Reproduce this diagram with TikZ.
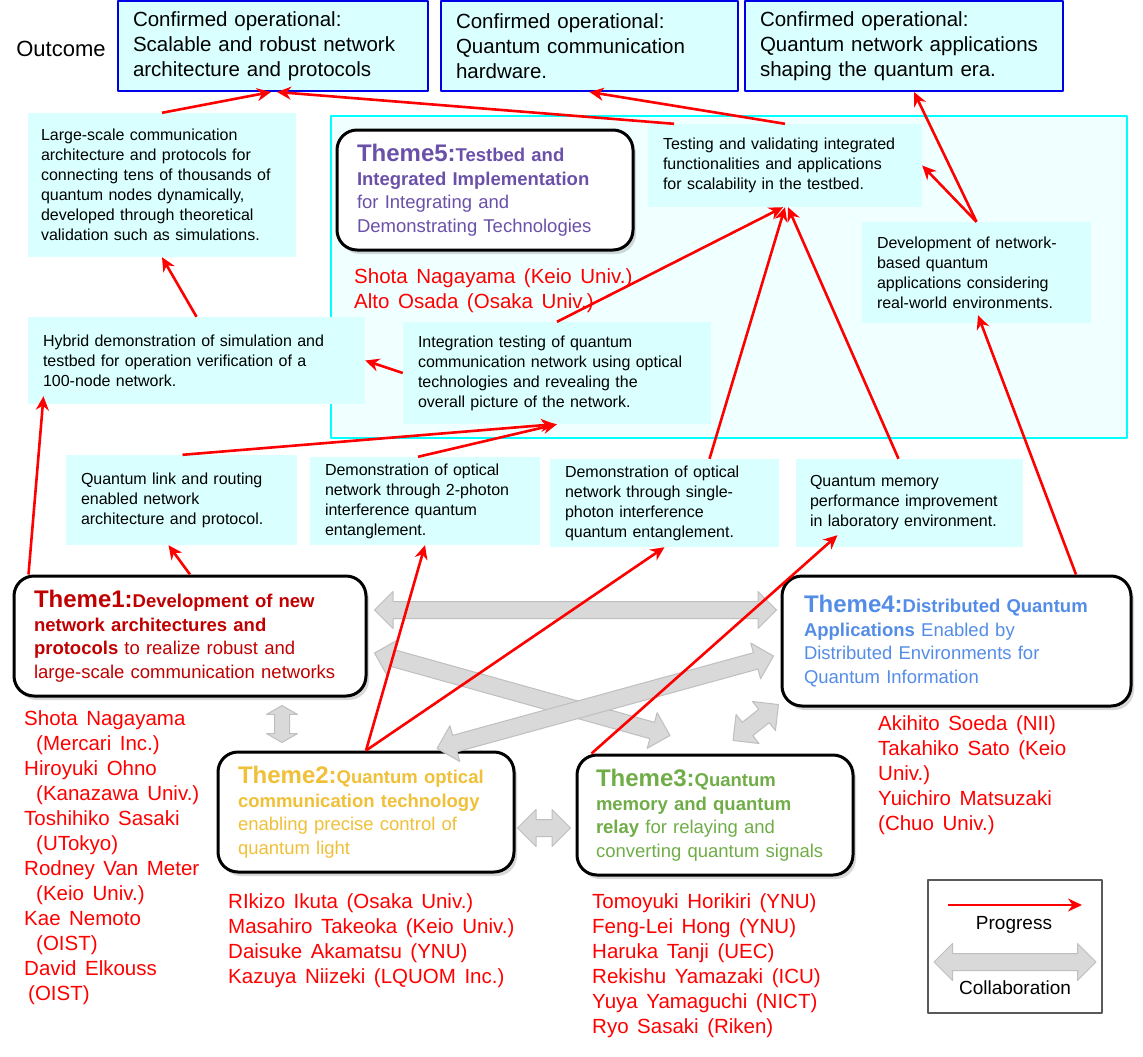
\documentclass[tikz,border=0pt]{standalone}
\usepackage{fontspec}
\setmainfont{Liberation Sans}[WordSpace=1.5]
\usetikzlibrary{arrows.meta,shapes.arrows,shadows,calc}

\definecolor{cellfill}{RGB}{217,255,255}
\definecolor{zonefill}{RGB}{240,255,255}
\definecolor{zoneline}{RGB}{0,255,255}
\definecolor{outline}{RGB}{0,0,230}
\definecolor{legline}{RGB}{89,89,89}
\definecolor{tone}{RGB}{192,0,0}
\definecolor{ttwo}{RGB}{240,192,56}
\definecolor{tthree}{RGB}{112,173,71}
\definecolor{tfour}{RGB}{84,141,232}
\definecolor{tfive}{RGB}{106,80,168}
\definecolor{collabfill}{RGB}{217,217,217}
\definecolor{collabline}{RGB}{191,191,191}

\tikzset{
  outbox/.style={draw=outline, line width=2pt, fill=cellfill, align=left,
    inner xsep=15pt, minimum height=90pt, font=\fontsize{20.5}{25}\selectfont},
  cellbox/.style={fill=cellfill, align=left, inner xsep=15pt,
    font=\fontsize{16}{20}\selectfont},
  themebox/.style={draw, line width=3pt, rounded corners=20pt, fill=white,
    align=left, inner xsep=20pt, minimum height=120pt,
    drop shadow={shadow xshift=3pt, shadow yshift=-4pt, opacity=0.3},
    font=\fontsize{18.5}{23.5}\selectfont},
  names/.style={anchor=north west, inner sep=0pt, align=left, text=red,
    font=\fontsize{20.5}{25}\selectfont},
  prog/.style={draw=red, line width=2.6pt, -{Stealth[length=14pt, width=13pt]}},
  collabarrow/.style={double arrow, draw=collabline, fill=collabfill,
    line width=1pt, inner xsep=0pt, inner ysep=8pt, minimum width=36pt,
    double arrow head extend=10pt},
  shortcollab/.style={minimum width=30pt, inner ysep=7pt,
    double arrow head extend=8pt, double arrow tip angle=120},
}
\newcommand{\tlabel}[1]{{\fontsize{24}{24}\selectfont\bfseries #1}}
\newcommand{\collab}[4][]{%
  \path let \p1=($(#3)-(#2)$), \n1={veclen(\x1,\y1)}, \n2={atan2(\y1,\x1)} in
    node[collabarrow, #1, minimum height=\n1, rotate=\n2] (#4) at ($(#2)!0.5!(#3)$) {};}

\begin{document}
\begin{tikzpicture}[x=1pt,y=-1pt,line join=round]
  \useasboundingbox (0,0) rectangle (1143,1057);
  \fill[white] (0,0) rectangle (1143,1057);
  % testbed zone
  \draw[zoneline, line width=2pt, fill=zonefill] (331,116) rectangle (1127,438);

  % outcomes
  \node[font=\fontsize{22}{22}\selectfont] (outlabel) at (61,49) {Outcome};
  \node[outbox, text width=280pt] (o1) at (273,46)
    {Confirmed operational:\\Scalable and robust network\\architecture and protocols};
  \node[outbox, text width=267pt] (o2) at (589.5,46)
    {Confirmed operational:\\Quantum communication\\hardware.};
  \node[outbox, text width=288pt] (o3) at (904,46)
    {Confirmed operational:\\Quantum network applications\\shaping the quantum era.};

  % milestones
  \node[cellbox, text width=242pt, inner xsep=13pt, minimum height=144pt] (lsc) at (162,185)
    {Large-scale communication\\architecture and protocols for\\connecting tens of thousands of\\quantum nodes dynamically,\\developed through theoretical\\validation such as simulations.};
  \node[cellbox, text width=244pt, minimum height=83pt] (tst) at (785,165.5)
    {Testing and validating integrated\\functionalities and applications\\for scalability in the testbed.};
  \node[cellbox, text width=199pt, minimum height=101pt] (dev) at (976.5,272.5)
    {Development of network-\\based quantum\\applications considering\\real-world environments.};
  \node[cellbox, text width=307pt, minimum height=87pt] (hyb) at (196.5,360.5)
    {Hybrid demonstration of simulation and\\testbed for operation verification of a\\100-node network.};
  \node[cellbox, text width=278pt, minimum height=102pt] (itg) at (557,373)
    {Integration testing of quantum\\communication network using optical\\technologies and revealing the\\overall picture of the network.};
  \node[cellbox, text width=201pt, minimum height=90pt] (lnk) at (181.5,500)
    {Quantum link and routing\\enabled network\\architecture and protocol.};
  \node[cellbox, text width=200pt, minimum height=88pt] (two) at (425,501)
    {Demonstration of optical\\network through 2-photon\\interference quantum\\entanglement.};
  \node[cellbox, text width=199pt, minimum height=88pt] (sgl) at (664.5,503)
    {Demonstration of optical\\network through single-\\photon interference\\quantum entanglement.};
  \node[cellbox, text width=199pt, inner xsep=14pt, minimum height=88pt] (mem) at (909.5,503)
    {Quantum memory\\performance improvement\\in laboratory environment.};

  % themes
  \node[themebox, text=tfive, text width=256pt, minimum width=296pt] (t5) at (485,190)
    {\tlabel{Theme5:}\textbf{Testbed and}\\\textbf{Integrated Implementation}\\for Integrating and\\Demonstrating Technologies};
  \node[themebox, text=tone, text width=312pt, minimum width=352pt] (t1) at (190,636)
    {\tlabel{Theme1:}\textbf{Development of new}\\\textbf{network architectures and}\\\textbf{protocols} to realize robust and\\large-scale communication networks};
  \node[themebox, text=ttwo, text width=256pt, minimum width=296pt] (t2) at (366,812)
    {\tlabel{Theme2:}\textbf{Quantum optical}\\\textbf{communication technology}\\enabling precise control of\\quantum light};
  \node[themebox, text=tthree, text width=238pt, inner xsep=19pt, minimum width=276pt] (t3) at (715,815)
    {\tlabel{Theme3:}\textbf{Quantum}\\\textbf{memory and quantum}\\\textbf{relay} for relaying and\\converting quantum signals};
  \node[themebox, text=tfour, text width=305pt, inner xsep=22pt, minimum width=349pt, minimum height=130pt] (t4) at (956.5,641)
    {\tlabel{Theme4:}\textbf{Distributed Quantum}\\\textbf{Applications} Enabled by\\Distributed Environments for\\Quantum Information};

  % members
  \node[names] (n5) at (354,268) {Shota Nagayama (Keio Univ.)\\Alto Osada (Osaka Univ.)};
  \node[names] (n1) at (24,710) {Shota Nagayama\\\hspace*{12pt}(Mercari Inc.)\\Hiroyuki Ohno\\\hspace*{12pt}(Kanazawa Univ.)\\Toshihiko Sasaki\\\hspace*{12pt}(UTokyo)\\Rodney Van Meter\\\hspace*{12pt}(Keio Univ.)\\Kae Nemoto\\\hspace*{12pt}(OIST)\\David Elkouss\\\hspace*{4pt}(OIST)};
  \node[names] (n2) at (228,893) {RIkizo Ikuta (Osaka Univ.)\\Masahiro Takeoka (Keio Univ.)\\Daisuke Akamatsu (YNU)\\Kazuya Niizeki (LQUOM Inc.)};
  \node[names] (n3) at (592,893) {Tomoyuki Horikiri (YNU)\\Feng-Lei Hong (YNU)\\Haruka Tanji (UEC)\\Rekishu Yamazaki (ICU)\\Yuya Yamaguchi (NICT)\\Ryo Sasaki (Riken)};
  \node[names] (n4) at (878,715) {Akihito Soeda (NII)\\Takahiko Sato (Keio\\Univ.)\\Yuichiro Matsuzaki\\(Chuo Univ.)};

  % collaboration
  \coordinate (ca1) at ([xshift=7pt,yshift=26pt]t1.east);
  \coordinate (ca2) at ([xshift=-4pt,yshift=31pt]t4.west);
  \coordinate (cb1) at ([xshift=7pt,yshift=-17pt]t1.east);
  \coordinate (cb2) at ([xshift=-45pt,yshift=18pt]t3.north);
  \coordinate (cc1) at ([xshift=71pt,yshift=2pt]t2.north);
  \coordinate (cc2) at ([xshift=-7pt,yshift=-15pt]t4.west);
  \coordinate (cd1) at ([xshift=18pt,yshift=13pt]t3.north);
  \coordinate (cd2) at ([xshift=-2pt,yshift=3pt]t4.south west);
  \coordinate (ce1) at ([xshift=92pt,yshift=-8pt]t1.south);
  \coordinate (ce2) at ([xshift=-84pt,yshift=8pt]t2.north);
  \coordinate (cf1) at ([xshift=2pt,yshift=-16pt]t2.east);
  \coordinate (cf2) at ([xshift=-5pt,yshift=-13pt]t3.west);
  \collab{ca1}{ca2}{ga}
  \collab{cb1}{cb2}{gb}
  \collab{cc1}{cc2}{gc}
  \collab{cd1}{cd2}{gd}
  \collab[shortcollab]{ce1}{ce2}{ge}
  \collab{cf1}{cf2}{gf}

  % progress
  \draw[prog] (lsc.north) -- ([xshift=-2pt]o1.south);
  \draw[prog] ([xshift=-111pt]tst.north) -- ([xshift=4pt]o1.south);
  \draw[prog] (tst.north) -- (o2.south);
  \draw[prog] (dev.north) -- ([xshift=10pt]o3.south);
  \draw[prog] (dev.north) -- (tst.east);
  \draw[prog] (itg.north) -- ([xshift=-2pt]tst.south);
  \draw[prog] ([xshift=45pt]sgl.north) -- (tst.south);
  \draw[prog] ([xshift=-11pt]mem.north) -- ([xshift=3pt]tst.south);
  \draw[prog] (itg.west) -- (hyb.east);
  \draw[prog] (hyb.north) -- (lsc.south);
  \draw[prog] ([xshift=16pt]t1.north west) -- ([xshift=-153pt,yshift=8pt]hyb.south);
  \draw[prog] ([xshift=1pt]lnk.north) -- ([xshift=-2pt]itg.south);
  \draw[prog] ([xshift=-7pt]two.north) -- (itg.south);
  \draw[prog] (t1.north) -- ([xshift=-13pt]lnk.south);
  \draw[prog] (t2.north) -- (two.south);
  \draw[prog] (t2.north) -- (sgl.south);
  \draw[prog] ([xshift=16pt]t3.north west) -- ([xshift=-72pt,yshift=12pt]mem.south);
  \draw[prog] ([xshift=119.5pt]t4.north) -- ([xshift=1.5pt,yshift=8pt]dev.south);

  % legend
  \node[draw=legline, line width=2pt, minimum width=174pt, minimum height=133pt] (legend) at (1015,946.5) {};
  \coordinate (pa) at (948,905);
  \coordinate (pb) at (1082,905);
  \draw[prog] (pa) -- (pb);
  \node[font=\fontsize{19}{19}\selectfont] (plab) at (1014,925) {Progress};
  \coordinate (qa) at (934,962);
  \coordinate (qb) at (1096,962);
  \collab{qa}{qb}{gl}
  \node[font=\fontsize{19}{19}\selectfont] (clab) at (1015,988) {Collaboration};
\end{tikzpicture}
\end{document}
